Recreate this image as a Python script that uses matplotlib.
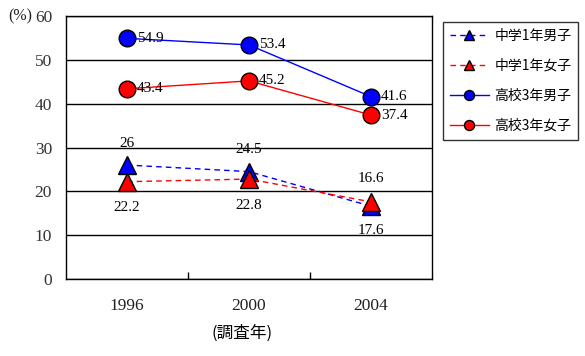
import matplotlib.pyplot as plt

years = ['1996', '2000', '2004']
series_names = ['中学1年男子', '中学1年女子', '高校3年男子', '高校3年女子']
jh_boys = [26, 24.5, 16.6]
jh_girls = [22.2, 22.8, 17.6]
hs_boys = [54.9, 53.4, 41.6]
hs_girls = [43.4, 45.2, 37.4]

cjk = ['Noto Sans CJK JP', 'DejaVu Sans']
serif = 'Liberation Serif'

fig = plt.figure(figsize=(5.85, 3.56), dpi=100)
ax = fig.add_axes([66 / 585, 77 / 356, 366 / 585, 263 / 356])

x = range(len(years))
ax.plot(x, jh_boys, color='blue', lw=1, ls=(0, (4, 3)), marker='^', ms=13,
        mfc='blue', mec='black', mew=1, label=series_names[0], zorder=4)
ax.plot(x, jh_girls, color='red', lw=1, ls=(0, (4, 3)), marker='^', ms=13,
        mfc='red', mec='black', mew=1, label=series_names[1], zorder=4)
ax.plot(x, hs_boys, color='blue', lw=1, marker='o', ms=12,
        mfc='blue', mec='black', mew=1, label=series_names[2], zorder=4)
ax.plot(x, hs_girls, color='red', lw=1, marker='o', ms=12,
        mfc='red', mec='black', mew=1, label=series_names[3], zorder=4)

# data labels
for i in x:
    ax.annotate(f'{hs_boys[i]:g}', (i, hs_boys[i]), xytext=(7, 0),
                textcoords='offset points', ha='left', va='center',
                fontsize=11, family=serif, zorder=5)
    ax.annotate(f'{hs_girls[i]:g}', (i, hs_girls[i]), xytext=(7, 0),
                textcoords='offset points', ha='left', va='center',
                fontsize=11, family=serif, zorder=5)

# junior high labels (2004 placed as in the original)
jb_pos = [(i, jh_boys[i], 11) for i in range(2)] + [(2, jh_girls[2], 12)]
jg_pos = [(i, jh_girls[i], -14) for i in range(2)] + [(2, jh_boys[2], -13)]
for (i, v, dy), val in zip(jb_pos, jh_boys):
    ax.annotate(f'{val:g}', (i, v), xytext=(0, dy), textcoords='offset points',
                ha='center', va='bottom', fontsize=11, family=serif)
for (i, v, dy), val in zip(jg_pos, jh_girls):
    ax.annotate(f'{val:g}', (i, v), xytext=(0, dy), textcoords='offset points',
                ha='center', va='top', fontsize=11, family=serif)

ax.set_ylim(0, 60)
ax.set_yticks(range(0, 61, 10))
ax.yaxis.grid(True, color='black', lw=1)
ax.set_axisbelow(True)
ax.set_xlim(-0.5, 2.5)
ax.set_xticks(list(x))
ax.set_xticklabels(years)
ax.set_xticks([0.5, 1.5], minor=True)
ax.tick_params(axis='y', length=0, pad=10, labelsize=12.5, labelcolor='#333333')
ax.tick_params(axis='x', which='major', length=0, pad=14, labelsize=12.5,
               labelcolor='#222222')
ax.tick_params(axis='x', which='minor', direction='in', length=5, width=1)
for lbl in ax.get_xticklabels() + ax.get_yticklabels():
    lbl.set_family(serif)
for s in ax.spines.values():
    s.set_linewidth(1)

ax.set_xlabel('(調査年)', family=cjk, fontsize=12, labelpad=7)
ax.xaxis.set_label_coords(0.48, -0.175)
fig.text(20 / 585, 1 - 16 / 356, '(%)', family=serif, fontsize=11.5,
         ha='center', va='center', color='#222222')

leg = fig.legend(loc='upper left', bbox_to_anchor=(443 / 585, 1 - 22 / 356),
                 prop={'family': cjk, 'size': 10}, markerscale=0.6,
                 frameon=True, fancybox=False, edgecolor='black',
                 borderpad=0.5, labelspacing=1.15, handlelength=2.8,
                 handletextpad=0.4, borderaxespad=0)
leg.get_frame().set_linewidth(1)

fig.savefig('out.png', dpi=100)
